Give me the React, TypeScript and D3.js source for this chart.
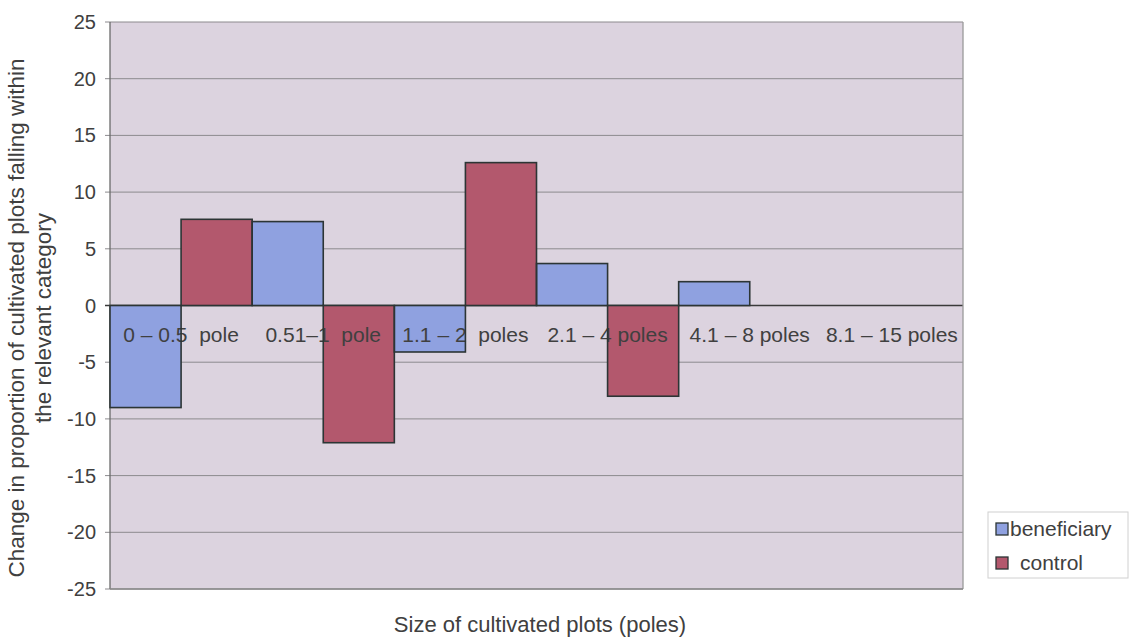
import React from "react";
import * as d3 from "d3";

const categories = ["0 – 0.5  pole", "0.51–1  pole", "1.1 – 2  poles", "2.1 – 4 poles", "4.1 – 8 poles", "8.1 – 15 poles"];
const beneficiary = [-9.0, 7.4, -4.1, 3.7, 2.1, 0];
const control = [7.6, -12.1, 12.6, -8.0, 0, 0];
const seriesNames = ["beneficiary", "control"];
const yTicks = [25, 20, 15, 10, 5, 0, -5, -10, -15, -20, -25];

const W = 1131, H = 637;
const plot = { left: 110, right: 963, top: 22, bottom: 589 };
const colors = ["#8fa1e0", "#b3586d"];
const font = "'Liberation Sans', Arial, sans-serif";
const textColor = "#404040";

export default function App() {
  const x = d3.scaleBand<string>().domain(categories).range([plot.left, plot.right]).paddingInner(0).paddingOuter(0);
  const xs = d3.scaleBand<string>().domain(seriesNames).range([0, x.bandwidth()]).padding(0);
  const y = d3.scaleLinear().domain([-25, 25]).range([plot.bottom, plot.top]);
  const series = [beneficiary, control];

  const bars: { k: string; x: number; y: number; w: number; h: number; c: string }[] = [];
  categories.forEach((cat, i) => {
    series.forEach((s, j) => {
      const v = s[i];
      if (v === 0) return;
      const x0 = (x(cat) ?? 0) + (xs(seriesNames[j]) ?? 0);
      bars.push({ k: `${i}-${j}`, x: x0, y: y(Math.max(0, v)), w: xs.bandwidth(), h: Math.abs(y(v) - y(0)), c: colors[j] });
    });
  });

  return (
    <svg width={W} height={H} style={{ position: "absolute", left: 0, top: 0, background: "#fff" }} fontFamily={font}>
      <rect x={plot.left} y={plot.top} width={plot.right - plot.left} height={plot.bottom - plot.top} fill="#dcd3df" />
      {yTicks.map((t) => (
        <g key={t}>
          <line x1={plot.left - 5} x2={plot.right} y1={y(t)} y2={y(t)} stroke={t === 0 ? "#3a3a3a" : "#8c8a8e"} strokeWidth={t === 0 ? 1.3 : 1} />
          <text x={96} y={y(t)} dy="0.35em" textAnchor="end" fontSize={20} fill={textColor}>{t}</text>
        </g>
      ))}
      <line x1={plot.left} x2={plot.left} y1={plot.top} y2={plot.bottom} stroke="#6a6a6a" strokeWidth={1.3} />
      <line x1={plot.right} x2={plot.right} y1={plot.top} y2={plot.bottom} stroke="#9a9a9a" strokeWidth={1.3} />
      <line x1={plot.left} x2={plot.right} y1={plot.bottom} y2={plot.bottom} stroke="#8a8a8a" strokeWidth={1.3} />
      {bars.map((b) => (
        <rect key={b.k} x={b.x} y={b.y} width={b.w} height={b.h} fill={b.c} />
      ))}
      {categories.map((c) => (
        <text key={c} x={(x(c) ?? 0) + x.bandwidth() / 2} y={y(0) + 36} textAnchor="middle" fontSize={21} fill={textColor} style={{ whiteSpace: "pre" }}>{c}</text>
      ))}
      {bars.map((b) => (
        <rect key={"o" + b.k} x={b.x} y={b.y} width={b.w} height={b.h} fill="none" stroke="#2c3535" strokeWidth={1.6} />
      ))}
      <text transform={`translate(24, 318) rotate(-90)`} textAnchor="middle" fontSize={22.5} fill={textColor}>
        <tspan x={0} dy="0">Change in proportion of cultivated plots falling within</tspan>
        <tspan x={0} dy="27">the relevant category</tspan>
      </text>
      <text x={540} y={632} textAnchor="middle" fontSize={22} fill={textColor}>Size of cultivated plots (poles)</text>
      <g>
        <rect x={988} y={512} width={140} height={66} fill="#fff" stroke="#d0d0d0" />
        {seriesNames.map((s, i) => (
          <g key={s} transform={`translate(996, ${529 + i * 34})`}>
            <rect x={0} y={-6} width={12} height={12} fill={colors[i]} stroke="#2c3535" strokeWidth={1.3} />
            <text x={i === 0 ? 14 : 24} y={0} dy="0.35em" fontSize={21} fill={textColor}>{s}</text>
          </g>
        ))}
      </g>
    </svg>
  );
}
